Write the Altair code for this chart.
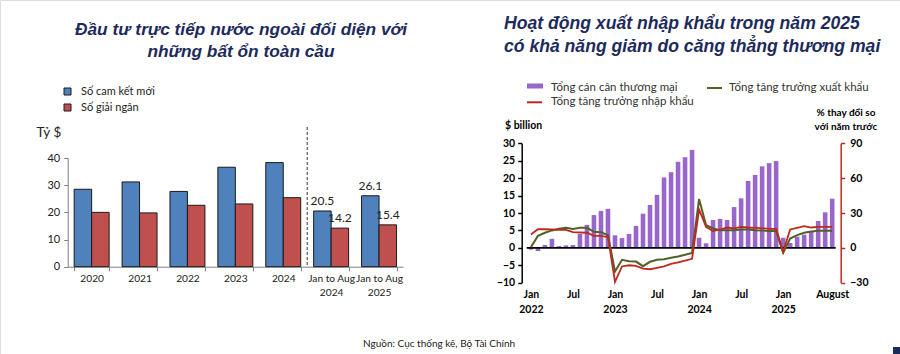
import json
import altair as alt
import pandas as pd

W, H = 900, 354
FONT = "Lato"
TFONT = "Liberation Sans"
NAVY = "#1d2a5c"
BLUE = "#4F81BD"
REDBAR = "#C0504D"
PURPLE = "#9966CC"
GREEN = "#4F6228"
RED = "#C0281E"
TXT = "#222222"

# ---------------- left chart data (FDI, billion USD) ----------------
fdi_categories = ["2020", "2021", "2022", "2023", "2024", "Jan to Aug 2024", "Jan to Aug 2025"]
fdi_series = ["Số cam kết mới", "Số giải ngân"]
fdi_committed = [28.5, 31.2, 27.7, 36.6, 38.3, 20.5, 26.1]
fdi_disbursed = [20.0, 19.8, 22.6, 23.1, 25.4, 14.2, 15.4]
fdi_labelled = ["Jan to Aug 2024", "Jan to Aug 2025"]
fdi_annual_count = [5]  # divider after the annual categories

# ---------------- right chart data (trade, Jan 2022 - Aug 2025) ----------------
trade_month_idx = list(range(44))
trade_balance = [
    -0.5, -0.9, 0.8, 2.6, 0.5, 0.7, 0.8, 4.0, 6.6, 9.4, 10.6, 11.2,
    3.6, 2.8, 4.0, 6.3, 9.8, 12.3, 15.2, 20.2, 21.7, 24.7, 26.0, 28.1,
    2.9, 1.3, 8.0, 8.3, 8.0, 11.7, 14.2, 19.2, 20.9, 23.4, 24.3, 24.9,
    2.9, 1.4, 3.2, 3.8, 4.6, 7.7, 10.2, 14.1,
]
export_growth = [
    0.5, 10.3, 13.0, 15.0, 16.4, 17.2, 16.2, 17.2, 17.2, 13.8, 13.5, 10.8,
    -20.3, -10.3, -11.5, -11.8, -15.8, -12.0, -10.3, -9.8, -8.6, -7.4, -6.0, -4.3,
    42.0, 19.5, 16.7, 15.2, 15.2, 15.2, 15.8, 15.8, 15.2, 15.0, 14.4, 14.4,
    -4.3, 8.0, 11.0, 13.0, 14.0, 14.7, 14.7, 14.7,
]
import_growth = [
    11.5, 16.0, 16.0, 15.8, 15.5, 15.5, 13.5, 13.2, 13.0, 10.3, 10.3, 9.2,
    -29.3, -16.0, -15.0, -15.5, -17.8, -18.4, -17.2, -16.0, -13.8, -12.4, -11.0, -9.5,
    33.0, 18.0, 14.4, 15.8, 17.5, 16.7, 18.0, 17.5, 17.2, 17.0, 16.4, 16.4,
    -3.4, 15.8, 17.2, 18.7, 17.5, 18.0, 18.0, 18.0,
]
trade_tick_idx = [0, 6, 12, 18, 24, 30, 36, 43]
trade_tick_labels = ["Jan\n2022", "Jul", "Jan\n2023", "Jul", "Jan\n2024", "Jul", "Jan\n2025", "August"]

one = pd.DataFrame({"k": [0]})


def text(s, x, y, size, align="left", weight="normal", style="normal",
         font=FONT, color=TXT, baseline="alphabetic"):
    return alt.Chart(one).mark_text(
        text=s, align=align, baseline=baseline, fontSize=size, fontWeight=weight,
        fontStyle=style, font=font, color=color,
    ).encode(x=alt.value(x), y=alt.value(y))


# ================= LEFT CHART =================
L_X0, L_X1, L_Y0, L_Y1 = 67.7, 403.0, 266.7, 158.0
n = len(fdi_categories)
fdi = pd.DataFrame({
    "cat": fdi_categories * 2,
    "series": [fdi_series[0]] * n + [fdi_series[1]] * n,
    "value": fdi_committed + fdi_disbursed,
})

x_left = alt.X(
    "cat:N", title=None,
    scale=alt.Scale(domain=fdi_categories, range=[L_X0, L_X1], paddingInner=0.27, paddingOuter=0.135),
    axis=alt.Axis(orient="bottom", offset=L_Y0 - H, labelAngle=0, tickBand="extent",
                  domainColor="#808080", tickColor="#808080", tickSize=4, labelPadding=3,
                  labelFont=FONT, labelFontSize=10.2, labelColor=TXT, labelLineHeight=14,
                  labelExpr="split(replace(datum.label, 'Aug ', 'Aug|'), '|')", grid=False),
)
xo_left = alt.XOffset("series:N", scale=alt.Scale(domain=fdi_series, paddingInner=0, paddingOuter=0))
y_left = alt.Y(
    "value:Q", title=None,
    scale=alt.Scale(domain=[0, 40], range=[L_Y0, L_Y1], nice=False),
    axis=alt.Axis(orient="left", offset=-L_X0, values=[0, 10, 20, 30, 40], grid=False,
                  domainColor="#808080", tickColor="#808080", tickSize=4, labelPadding=4,
                  labelFont=FONT, labelFontSize=11, labelColor=TXT),
)

left_bars = alt.Chart(fdi).mark_bar(stroke="#1a1a1a", strokeWidth=1).encode(
    x=x_left, xOffset=xo_left, y=y_left,
    color=alt.Color("series:N", scale=alt.Scale(domain=fdi_series, range=[BLUE, REDBAR]),
                    legend=alt.Legend(orient="none", legendX=62, legendY=86, title=None,
                                      symbolType="square", symbolSize=49, symbolStrokeColor="#1a1a1a",
                                      symbolStrokeWidth=1, labelFont=FONT, labelFontSize=11,
                                      labelColor=TXT, rowPadding=4, labelOffset=8, padding=0)),
)
left_labels = alt.Chart(fdi).transform_filter(
    alt.FieldOneOfPredicate(field="cat", oneOf=fdi_labelled)
).mark_text(baseline="bottom", dy=-3, font=FONT, fontSize=12, color=TXT).encode(
    x=x_left, xOffset=xo_left, y=y_left, text=alt.Text("value:Q", format=".1f"),
)
left = alt.layer(left_bars, left_labels)

divider = alt.Chart(pd.DataFrame({"boundary": fdi_annual_count})).mark_rule(
    strokeDash=[3, 2], color="#333333", strokeWidth=1
).encode(
    x=alt.X("boundary:Q", scale=alt.Scale(domain=[0, n], range=[L_X0, L_X1], nice=False, zero=True), axis=None),
    y=alt.value(127), y2=alt.value(L_Y0),
)

# ================= RIGHT CHART =================
R_X0, R_X1, R_Y0, R_Y1 = 521.7, 840.7, 282.7, 143.3
trade = pd.DataFrame({"idx": trade_month_idx, "balance": trade_balance,
                      "exports": export_growth, "imports": import_growth})

expr = "''"
for v, lab in reversed(list(zip(trade_tick_idx, trade_tick_labels))):
    expr = f"datum.value == {v} ? {json.dumps(lab.split(chr(10)))} : ({expr})"

x_right = alt.X(
    "idx:Q", title=None,
    scale=alt.Scale(domain=[-0.6, 43.5], range=[R_X0, R_X1], nice=False, zero=False),
    axis=alt.Axis(orient="bottom", offset=R_Y0 - H, values=trade_tick_idx, labelExpr=expr,
                  domain=False, ticks=False, tickSize=0, labelPadding=7, labelFont=FONT,
                  labelFontSize=10.5, labelFontWeight="bold", labelColor="black",
                  labelLineHeight=14.5, labelFlush=False, labelOverlap=False, grid=False),
)
y_bal = alt.Y(
    "balance:Q", title=None,
    scale=alt.Scale(domain=[-10, 30], range=[R_Y0, R_Y1], nice=False, zero=False),
    axis=alt.Axis(orient="left", offset=-R_X0, values=list(range(-10, 31, 5)), grid=False,
                  domainColor="black", domainWidth=1.5, tickColor="black", tickWidth=1.5, tickSize=4,
                  labelPadding=3, labelFont=FONT, labelFontSize=10.5, labelFontWeight="bold",
                  labelColor="black"),
)
pct_scale = alt.Scale(domain=[-30, 90], range=[R_Y0, R_Y1], nice=False, zero=False)
pct_axis = alt.Axis(orient="right", offset=R_X1 - W, values=[-30, 0, 30, 60, 90], grid=False,
                    domainColor=RED, domainWidth=1.5, tickColor=RED, tickWidth=1.5, tickSize=4,
                    labelPadding=5, labelFont=FONT, labelFontSize=10.5, labelFontWeight="bold",
                    labelColor="black")

bal_bars = alt.Chart(trade).mark_bar(color=PURPLE, width=4.6).encode(x=x_right, y=y_bal)
zero_line = alt.Chart(one).mark_rule(color="black", strokeWidth=1.6).encode(
    x=alt.datum(-0.6), x2=alt.datum(43.5), y=alt.datum(0)
)
exp_line = alt.Chart(trade).mark_line(color=GREEN, strokeWidth=2).encode(
    x=x_right, y=alt.Y("exports:Q", title=None, scale=pct_scale, axis=pct_axis))
imp_line = alt.Chart(trade).mark_line(color=RED, strokeWidth=1.8).encode(
    x=x_right, y=alt.Y("imports:Q", title=None, scale=pct_scale, axis=pct_axis))

right = alt.layer(alt.layer(bal_bars, zero_line), alt.layer(exp_line, imp_line)).resolve_scale(y="independent")

# ================= TEXTS & MANUAL LEGEND =================
annotations = [
    text("Đầu tư trực tiếp nước ngoài đối diện với", 241, 35, 17.3, align="center",
         weight="bold", style="italic", font=TFONT, color=NAVY),
    text("những bất ổn toàn cầu", 241, 56.7, 17.3, align="center",
         weight="bold", style="italic", font=TFONT, color=NAVY),
    text("Hoạt động xuất nhập khẩu trong năm 2025", 504, 29.3, 17.6,
         weight="bold", style="italic", font=TFONT, color=NAVY),
    text("có khả năng giảm do căng thẳng thương mại", 504, 51.7, 17.6,
         weight="bold", style="italic", font=TFONT, color=NAVY),
    text("Tỷ $", 36.5, 137, 13.5),
    text("$ billion", 505, 126, 10.5, weight="bold", baseline="middle", color="black"),
    text("% thay đổi so", 846, 113, 10, align="center", weight="bold", baseline="middle", color="black"),
    text("với năm trước", 846, 126.5, 10, align="center", weight="bold", baseline="middle", color="black"),
    text("Tổng cán cân thương mại", 551, 88, 11.5, baseline="middle", color="#333333"),
    text("Tổng tăng trưởng xuất khẩu", 729, 88, 11.5, baseline="middle", color="#333333"),
    text("Tổng tăng trưởng nhập khẩu", 551, 101.5, 11.5, baseline="middle", color="#333333"),
    text("Nguồn: Cục thống kê, Bộ Tài Chính", 363, 344, 10, baseline="middle", color="#222222"),
    alt.Chart(one).mark_rect(color=PURPLE).encode(
        x=alt.value(527), x2=alt.value(543), y=alt.value(83.5), y2=alt.value(88.5)),
    alt.Chart(one).mark_rule(color=GREEN, strokeWidth=2).encode(
        x=alt.value(707), x2=alt.value(722), y=alt.value(88)),
    alt.Chart(one).mark_rule(color=RED, strokeWidth=2).encode(
        x=alt.value(527), x2=alt.value(542), y=alt.value(102.3)),
    alt.Chart(one).mark_rect(color=NAVY).encode(
        x=alt.value(893), x2=alt.value(900), y=alt.value(347), y2=alt.value(354)),
]

chart = alt.layer(left, divider, right, *annotations).resolve_scale(
    x="independent", y="independent", color="independent"
).properties(
    width=W, height=H, padding=0, autosize=alt.AutoSizeParams(type="none"),
).configure_view(stroke=None).configure(background="white")

chart.save("out.html", embed_options={"renderer": "svg", "actions": False})
